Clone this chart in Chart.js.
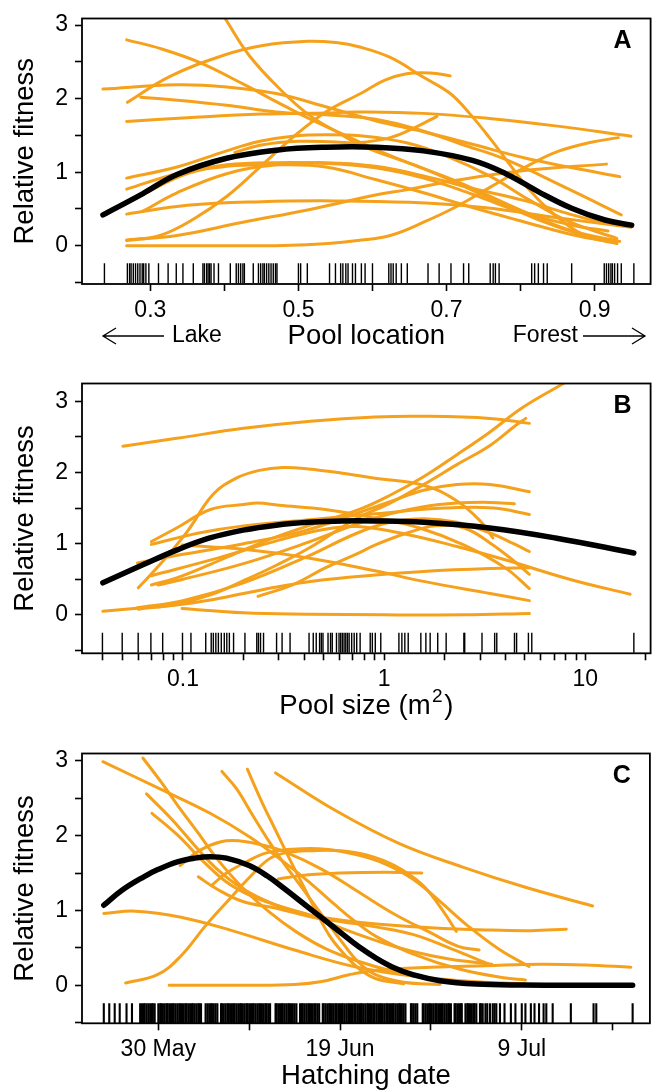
<!DOCTYPE html>
<html>
<head>
<meta charset="utf-8">
<script src="https://cdn.jsdelivr.net/npm/chart.js@4.4.0/dist/chart.umd.min.js"></script>
<style>
  html, body { margin: 0; padding: 0; background: #fff; }
  .panel { position: absolute; left: 0; width: 662px; }
</style>
</head>
<body>
<div class="panel" style="top:0;height:360px"><canvas id="chartA"></canvas></div>
<div class="panel" style="top:365px;height:360px"><canvas id="chartB"></canvas></div>
<div class="panel" style="top:735px;height:356px"><canvas id="chartC"></canvas></div>
<script>
const ORANGE = "#f6a11c";
const FONT = "'Liberation Sans', Arial, Helvetica, sans-serif";

// axis ticks and labels
const FIT_TICKS = [-0.5, 0, 0.5, 1, 1.5, 2, 2.5, 3];
const FIT_LABELS = [0, 1, 2, 3];
const LOC_TICKS = [0.3, 0.4, 0.5, 0.6, 0.7, 0.8, 0.9];
const LOC_LABELS = [0.3, 0.5, 0.7, 0.9];
const SIZE_TICKS = [0.04, 0.05, 0.06, 0.07, 0.08, 0.09, 0.1, 0.2, 0.3, 0.4, 0.5, 0.6, 0.7, 0.8, 0.9,
  1, 2, 3, 4, 5, 6, 7, 8, 9, 10, 20];
const SIZE_LABELS = [0.1, 1, 10];
const DATE_TICKS = [150, 160, 170, 180, 190, 200]; // day of year
const DATE_LABELS = { 150: "30 May", 170: "19 Jun", 190: "9 Jul" };

// A: pool location
const locMean = [[0.236,0.42],[0.29,0.71],[0.336,0.97],[0.403,1.19],[0.47,1.3],[0.537,1.34],[0.604,1.34],
  [0.669,1.29],[0.735,1.16],[0.78,0.98],[0.825,0.73],[0.869,0.51],[0.914,0.35],[0.95,0.28]];
const locCurves = [
  [[0.401,3.09],[0.434,2.58],[0.479,2.09],[0.514,1.78],[0.55,1.56],[0.59,1.34],[0.669,1.05],[0.758,0.65],[0.825,0.35],[0.892,0.12],[0.93,0.04]],
  [[0.269,1.95],[0.326,2.3],[0.399,2.59],[0.45,2.72],[0.513,2.78],[0.553,2.76],[0.58,2.71],[0.624,2.56],[0.669,2.29],[0.705,2.07],[0.731,1.8],[0.758,1.47],[0.785,1.11],[0.812,0.76],[0.838,0.49],[0.865,0.27],[0.892,0.12],[0.93,0.03]],
  [[0.268,2.8],[0.314,2.68],[0.367,2.49],[0.425,2.2],[0.47,1.96],[0.514,1.73],[0.559,1.52],[0.604,1.31],[0.65,1.12],[0.713,0.88],[0.803,0.47],[0.87,0.2],[0.934,0.06]],
  [[0.236,2.13],[0.336,2.19],[0.403,2.16],[0.47,2.07],[0.537,1.89],[0.604,1.7],[0.669,1.55],[0.735,1.38],[0.803,1.2],[0.87,1.06],[0.934,0.94]],
  [[0.287,2.02],[0.336,1.98],[0.403,1.91],[0.47,1.82],[0.537,1.78],[0.604,1.72],[0.665,1.57],[0.72,1.38],[0.778,1.18],[0.863,0.78],[0.936,0.42]],
  [[0.268,1.69],[0.35,1.74],[0.45,1.79],[0.55,1.81],[0.58,1.82],[0.669,1.8],[0.758,1.73],[0.847,1.63],[0.949,1.49]],
  [[0.268,0],[0.4,0],[0.48,0.005],[0.54,0.03],[0.58,0.07],[0.624,0.14],[0.669,0.32],[0.713,0.53],[0.758,0.79],[0.803,1.05],[0.847,1.27],[0.892,1.4],[0.932,1.47]],
  [[0.268,0.08],[0.336,0.14],[0.425,0.32],[0.514,0.49],[0.604,0.69],[0.646,0.76],[0.713,0.89],[0.803,1.02],[0.916,1.11]],
  [[0.268,0.07],[0.313,0.14],[0.358,0.36],[0.403,0.67],[0.448,1.07],[0.492,1.47],[0.537,1.82],[0.586,2.08],[0.616,2.25],[0.646,2.34],[0.678,2.35],[0.705,2.31]],
  [[0.268,0.92],[0.336,1.07],[0.403,1.29],[0.448,1.42],[0.492,1.49],[0.537,1.51],[0.59,1.49],[0.646,1.4],[0.7,1.22],[0.758,0.95],[0.812,0.62],[0.865,0.33],[0.93,0.1]],
  [[0.268,0.77],[0.336,0.98],[0.403,1.1],[0.47,1.13],[0.537,1.12],[0.604,1.06],[0.669,0.92],[0.735,0.7],[0.803,0.45],[0.87,0.28],[0.918,0.2]],
  [[0.238,0.45],[0.29,0.7],[0.35,0.98],[0.403,1.08],[0.47,1.1],[0.537,1.07],[0.604,0.9],[0.669,0.72],[0.735,0.52],[0.803,0.33],[0.87,0.15],[0.93,0.04]],
  [[0.29,0.47],[0.336,0.72],[0.403,0.98],[0.47,1.1],[0.537,1.13],[0.604,1.08],[0.669,0.95],[0.735,0.78],[0.803,0.62],[0.87,0.42],[0.918,0.3]],
  [[0.414,1.27],[0.45,1.37],[0.5,1.42],[0.55,1.41],[0.58,1.4],[0.624,1.47],[0.66,1.62],[0.687,1.76]],
  [[0.268,0.43],[0.35,0.55],[0.45,0.6],[0.55,0.61],[0.65,0.59],[0.75,0.52],[0.85,0.38],[0.949,0.25]]
];
const locRug = [0.238,0.269,0.272,0.274,0.277,0.28,0.283,0.286,0.289,0.291,0.294,0.298,0.311,0.324,0.335,0.344,
  0.358,0.371,0.373,0.376,0.378,0.38,0.382,0.386,0.392,0.408,0.416,0.419,0.422,0.425,0.427,0.439,0.446,0.449,
  0.452,0.454,0.457,0.46,0.463,0.466,0.469,0.471,0.5,0.503,0.512,0.542,0.55,0.557,0.56,0.564,0.567,0.573,0.577,
  0.585,0.59,0.6,0.622,0.625,0.628,0.632,0.639,0.647,0.675,0.69,0.706,0.723,0.73,0.759,0.763,0.766,0.771,
  0.815,0.819,0.824,0.831,0.836,0.869,0.913,0.916,0.919,0.922,0.924,0.927,0.931,0.936,0.953];

// B: pool size (m2)
const sizeMean = [[0.04,0.45],[0.064,0.71],[0.093,0.91],[0.136,1.08],[0.199,1.19],[0.29,1.26],[0.42,1.3],
  [0.62,1.32],[0.9,1.32],[1.57,1.3],[3.34,1.22],[7.1,1.08],[17.4,0.87]];
const sizeCurves = [
  [[0.0503,2.37],[0.093,2.48],[0.2,2.62],[0.43,2.72],[0.9,2.78],[1.57,2.79],[3.36,2.76],[5.27,2.69]],
  [[0.099,0.09],[0.2,0.03],[0.43,0.01],[1,0],[2.5,0],[5.27,0.02]],
  [[0.04,0.05],[0.063,0.1],[0.093,0.14],[0.137,0.21],[0.2,0.3],[0.293,0.39],[0.43,0.47],[0.9,0.56],[1.57,0.61],[3.36,0.65],[5.27,0.66]],
  [[0.0697,0.42],[0.093,0.52],[0.137,0.71],[0.2,0.91],[0.293,1.1],[0.43,1.26],[0.736,1.47],[1.07,1.68],[1.57,1.94],[2.3,2.25],[3.36,2.57],[4.92,2.92],[7.9,3.26]],
  [[0.06,0.08],[0.093,0.15],[0.137,0.28],[0.2,0.48],[0.293,0.7],[0.43,0.95],[0.736,1.36],[1.07,1.57],[1.57,1.83],[2.3,2.11],[3.36,2.38],[4.5,2.66],[5.06,2.76]],
  [[0.06,0.38],[0.077,0.71],[0.105,1.17],[0.141,1.69],[0.184,1.92],[0.24,2.03],[0.313,2.07],[0.42,2.05],[0.62,1.99],[0.9,1.92],[1.57,1.82],[2.3,1.6],[3.0,1.32],[3.47,1.08]],
  [[0.0697,1.03],[0.093,1.22],[0.137,1.48],[0.2,1.55],[0.236,1.57],[0.3,1.54],[0.51,1.48],[0.9,1.36],[1.5,1.22],[2.5,0.98],[4,0.66],[5.27,0.37]],
  [[0.0697,0.99],[0.12,1.15],[0.2,1.25],[0.4,1.33],[0.9,1.42],[2,1.5],[3.5,1.5],[5.27,1.41]],
  [[0.099,0.98],[0.2,0.92],[0.42,0.8],[0.9,0.62],[1.57,0.47],[3.36,0.3],[5.27,0.2]],
  [[0.0594,0.73],[0.1,0.85],[0.2,1.0],[0.4,1.18],[0.736,1.43],[1.07,1.59],[1.57,1.75],[2.3,1.83],[3.36,1.83],[5.27,1.73]],
  [[0.075,0.42],[0.1,0.5],[0.2,0.72],[0.4,1.0],[0.736,1.28],[1.07,1.42],[1.57,1.52],[2.3,1.57],[3.36,1.58],[4.44,1.56]],
  [[0.0594,0.1],[0.1,0.2],[0.2,0.45],[0.4,0.8],[0.736,1.15],[1.07,1.3],[1.57,1.35],[2.3,1.3],[3.36,1.15],[4.4,1.0],[5.27,0.89]],
  [[0.236,0.26],[0.35,0.42],[0.51,0.66],[0.736,0.86],[0.9,0.98],[1.3,1.15],[1.8,1.25],[2.5,1.22],[3.4,1.0],[4.4,0.76],[5.27,0.57]],
  [[0.0697,0.55],[0.15,0.8],[0.3,1.05],[0.5,1.2],[0.736,1.24],[1.3,1.13],[2.3,0.96],[4.03,0.77],[8.6,0.49],[16.7,0.29]]
];
const sizeRug = [0.0398,0.0499,0.0599,0.0693,0.0793,0.0995,0.1096,0.1298,0.1382,0.1416,0.1457,0.15,0.1551,
  0.1605,0.1652,0.1701,0.1785,0.2033,0.2328,0.2373,0.243,0.2515,0.292,0.311,0.3407,0.4234,0.4443,0.4597,
  0.4777,0.4871,0.4966,0.5261,0.5416,0.5522,0.5796,0.5967,0.6083,0.6201,0.6322,0.6445,0.6571,0.6699,0.6896,
  0.7097,0.7306,0.7596,0.8527,0.8736,0.9036,0.9621,1.184,1.225,1.267,1.317,1.522,1.612,1.693,1.846,2.033,
  2.49,2.514,3.064,3.542,3.629,4.444,4.553,5.212,5.417,17.42];

// C: hatching date (day of year)
const dateMean = [[144,1.07],[146,1.27],[148.4,1.45],[150,1.55],[152.1,1.65],[154,1.7],[155.7,1.72],[157.5,1.7],
  [160,1.6],[162,1.46],[164,1.28],[166,1.09],[168,0.9],[170,0.71],[172,0.52],[174,0.36],[176,0.23],[178,0.14],
  [181,0.06],[185,0.015],[190,0.002],[196,0],[202.2,0]];
const dateCurves = [
  [[143.9,2.99],[150.3,2.62],[155.7,2.3],[160.1,1.98],[163.7,1.66],[166.6,1.38],[169.5,1.07],[172,0.82],[174,0.65],[178,0.42],[183,0.22],[188,0.1],[190.4,0.07]],
  [[148.3,3.04],[150.3,2.72],[152.1,2.41],[154.3,2.05],[156.4,1.7],[159.3,1.3],[162.2,0.98],[165.1,0.72],[168.4,0.49],[172,0.32],[176,0.18],[180,0.08],[184,0.03]],
  [[148.7,2.56],[151.4,2.23],[154,1.87],[156.4,1.56],[159.3,1.29],[163,1.07],[166.6,0.94],[170.2,0.87],[174,0.82],[180,0.77],[186,0.74],[191,0.73],[194.9,0.75]],
  [[149.3,2.3],[152.1,2.01],[155,1.65],[157.5,1.38],[160.1,1.2],[163,1.07],[166.6,0.94],[170.2,0.76],[173.9,0.6],[178,0.45],[182,0.35],[186.7,0.28]],
  [[157,2.86],[158.6,2.63],[160.4,2.27],[162.2,1.92],[163.7,1.65],[165.9,1.29],[168,0.94],[170.2,0.58],[172,0.31],[173.9,0.14],[177,0.04],[181,0.01]],
  [[159.8,2.89],[161.4,2.45],[163,2.05],[164.4,1.7],[165.9,1.34],[167.4,0.98],[168.8,0.67],[170.2,0.45],[172,0.23],[173.9,0.09],[177,0.02]],
  [[162.9,2.84],[169.6,2.33],[176.6,1.89],[183.5,1.58],[190.4,1.31],[197.8,1.06]],
  [[144,0.96],[147.5,0.99],[152.5,0.91],[158.1,0.73],[165,0.47],[171.9,0.24],[178.9,0.11],[185.8,0.04],[190.4,0.02]],
  [[146.4,0.03],[149.9,0.14],[152.4,0.38],[155.3,0.81],[157.9,1.16],[160.1,1.45],[162.2,1.69],[164,1.77],[167,1.8],[170,1.8],[173,1.74],[176,1.6],[179,1.35],[181,1.05],[182.8,0.72]],
  [[151.2,0],[160,0],[165,0.01],[168,0.05],[171,0.14],[174,0.2],[180,0.24],[186,0.26],[192,0.28],[197,0.27],[202,0.24]],
  [[152.4,1.6],[154.5,1.8],[156.9,1.92],[159,1.93],[161.3,1.88],[164,1.78],[168,1.55],[172,1.25],[176,0.95],[180,0.7],[183,0.52],[185.3,0.47]],
  [[154.4,1.45],[156.4,1.29],[159.3,1.12],[163,1.03],[166.6,0.92],[170.2,0.85],[173.9,0.78],[178,0.68],[182,0.5],[186.6,0.27]],
  [[155.9,1.34],[157.5,1.5],[159.7,1.65],[161.9,1.77],[164.8,1.82],[168.4,1.82],[172,1.74],[175,1.62],[178,1.42],[181,1.12],[184,0.8],[187.5,0.48],[190.8,0.25]],
  [[163.2,1.42],[166,1.47],[170,1.5],[175,1.51],[179,1.5]]
];
const dateRug = [144.0,144.6,145.2,145.75,146.5,147.1,
  148.0,148.2,148.4,148.5,148.7,148.9,149.1,149.3,149.4,149.6,150.0,150.2,150.3,150.5,150.7,150.9,151.0,
  151.2,151.4,151.6,151.7,151.9,152.1,152.3,152.4,152.6,152.8,153.0,153.1,153.3,153.5,153.7,153.8,154.0,
  154.2,154.4,154.5,154.7,155.2,155.4,155.6,155.8,155.9,156.1,156.3,156.5,156.9,157.0,157.2,157.4,157.6,
  157.7,157.9,158.1,158.3,158.4,158.6,158.8,159.0,159.1,159.3,159.5,159.7,159.8,160.0,160.2,160.4,160.5,
  160.7,160.9,161.1,161.2,161.4,161.6,161.8,161.9,162.1,162.3,162.9,163.0,163.2,163.4,163.6,163.7,163.9,
  164.1,164.3,164.4,164.6,164.8,165.0,165.2,165.6,165.8,165.9,166.1,166.3,166.5,166.6,166.8,167.0,167.2,
  167.3,167.5,167.7,168.1,168.2,168.4,168.6,168.8,168.9,169.1,169.3,169.5,169.6,169.8,170.0,170.2,170.3,
  170.5,170.7,170.9,171.0,171.2,171.4,171.6,171.7,171.9,172.1,172.3,172.4,172.6,172.8,173.0,173.1,173.3,
  173.5,173.7,173.8,174.0,174.2,174.4,174.5,174.7,174.9,175.1,175.2,175.4,175.6,175.8,175.9,176.1,176.3,
  176.5,176.6,176.8,177.0,177.2,177.8,177.9,178.1,178.3,178.5,179.1,179.2,179.4,179.6,179.8,179.9,180.1,
  180.3,180.5,180.6,180.8,181.0,181.2,181.3,181.5,181.7,181.9,182.0,182.2,182.6,182.7,182.9,183.1,183.3,
  183.4,183.8,184.0,184.1,184.3,184.5,184.7,184.8,185.0,185.4,185.5,185.7,186.0,186.2,186.5,186.8,187.0,
  187.2,187.6,188.1,188.8,189.3,190.0,190.4,191.0,191.4,191.9,192.4,192.7,193.4,195.4,197.9,198.2,202.2];

Chart.defaults.font.family = FONT;
Chart.defaults.color = "#000";

// box around the plot area and the panel letter
const frame = {
  id: "frame",
  afterDraw(chart, args, opts) {
    const { ctx, chartArea: a } = chart;
    ctx.save();
    ctx.lineWidth = 1.8;
    ctx.strokeStyle = "#000";
    ctx.strokeRect(a.left, a.top, a.right - a.left, a.bottom - a.top);
    ctx.fillStyle = "#000";
    ctx.font = "bold 25px " + FONT;
    ctx.textAlign = "center";
    ctx.textBaseline = "middle";
    ctx.fillText(opts.letter, a.right - 28, a.top + 23);
    ctx.restore();
  }
};
Chart.register(frame);

function arrow(ctx, from, to, y) {
  const dir = Math.sign(to - from);
  ctx.beginPath();
  ctx.moveTo(from, y);
  ctx.lineTo(to, y);
  ctx.moveTo(to - dir * 13, y - 8);
  ctx.lineTo(to, y);
  ctx.lineTo(to - dir * 13, y + 8);
  ctx.stroke();
}

const sides = {
  id: "sides",
  afterDraw(chart) {
    const ctx = chart.ctx;
    const y = 336;
    ctx.save();
    ctx.fillStyle = "#000";
    ctx.strokeStyle = "#000";
    ctx.lineWidth = 1.3;
    ctx.font = "23px " + FONT;
    ctx.textBaseline = "middle";
    ctx.textAlign = "left";
    ctx.fillText("Lake", 172, y);
    ctx.textAlign = "right";
    ctx.fillText("Forest", 578, y);
    arrow(ctx, 164, 103, y);
    arrow(ctx, 583, 645, y);
    ctx.restore();
  }
};

// x title for B, with a proper raised "2"
const sizeTitle = {
  id: "sizeTitle",
  afterDraw(chart) {
    const ctx = chart.ctx;
    const a = chart.chartArea;
    const y = 341;
    ctx.save();
    ctx.fillStyle = "#000";
    ctx.textBaseline = "middle";
    ctx.textAlign = "left";
    ctx.font = "27.5px " + FONT;
    const main = "Pool size (m";
    const wMain = ctx.measureText(main).width;
    const wClose = ctx.measureText(")").width;
    ctx.font = "19px " + FONT;
    const wSup = ctx.measureText("2").width + 3;
    const x0 = (a.left + a.right) / 2 - (wMain + wSup + wClose) / 2;
    ctx.font = "27.5px " + FONT;
    ctx.fillText(main, x0, y);
    ctx.fillText(")", x0 + wMain + wSup, y);
    ctx.font = "19px " + FONT;
    ctx.fillText("2", x0 + wMain + 1.5, y - 9);
    ctx.restore();
  }
};

function line(points, color, width, order) {
  return {
    type: "line",
    data: points.map(([x, y]) => ({ x, y })),
    borderColor: color,
    borderWidth: width,
    borderCapStyle: "round",
    borderJoinStyle: "round",
    pointRadius: 0,
    fill: false,
    tension: 0.4,
    order: order
  };
}

function panel(id, p) {
  const datasets = [line(p.mean, "#000", 5.5, 0)];
  p.curves.forEach(c => datasets.push(line(c, ORANGE, 3, 1)));
  datasets.push({
    type: "scatter",
    data: p.rug.map(x => ({ x, y: p.rugY })),
    pointStyle: "line",
    pointRotation: 90,
    pointRadius: 10,
    pointBorderColor: "#000",
    pointBorderWidth: p.rugW,
    order: 2
  });
  const grid = { drawOnChartArea: false, tickLength: 7, tickWidth: 1.6, tickColor: "#000" };
  return new Chart(document.getElementById(id), {
    type: "line",
    data: { datasets },
    plugins: p.extra || [],
    options: {
      responsive: true,
      maintainAspectRatio: false,
      animation: false,
      events: [],
      layout: { padding: { top: p.top, right: 6, left: 0, bottom: 0 } },
      plugins: { legend: { display: false }, tooltip: { enabled: false }, frame: { letter: p.letter } },
      scales: {
        x: {
          type: p.xType,
          min: p.xMin,
          max: p.xMax,
          afterBuildTicks: s => { s.ticks = p.xTicks.map(v => ({ value: v })); },
          afterFit: s => { s.height = p.xHeight; },
          grid: grid,
          border: { display: false },
          ticks: { autoSkip: false, maxRotation: 0, padding: 8, font: { size: 23, lineHeight: 1 }, callback: p.xLabel },
          title: { display: !!p.xTitle, text: p.xTitle || "", font: { size: 27.5, lineHeight: 1 }, padding: { top: 0, bottom: p.titlePad } }
        },
        y: {
          type: "linear",
          min: p.yMin,
          max: p.yMax,
          afterBuildTicks: s => { s.ticks = FIT_TICKS.map(v => ({ value: v })); },
          afterFit: s => { s.width = 82; },
          grid: grid,
          border: { display: false },
          ticks: { padding: 7, font: { size: 23, lineHeight: 1 }, callback: v => FIT_LABELS.includes(v) ? String(v) : "" },
          title: { display: true, text: "Relative fitness", font: { size: 27.5, lineHeight: 1 }, padding: { top: 12, bottom: 0 } }
        }
      }
    }
  });
}

panel("chartA", {
  letter: "A", mean: locMean, curves: locCurves, rug: locRug, rugY: -0.373, rugW: 1.4,
  top: 12.7, xHeight: 76, titlePad: 10,
  xType: "linear", xMin: 0.2077, xMax: 0.9756, xTicks: LOC_TICKS,
  xLabel: v => LOC_LABELS.includes(v) ? String(v) : "",
  xTitle: "Pool location", yMin: -0.52, yMax: 3.09, extra: [sides]
});

panel("chartB", {
  letter: "B", mean: sizeMean, curves: sizeCurves, rug: sizeRug, rugY: -0.392, rugW: 1.4,
  top: 17.7, xHeight: 71.7,
  xType: "logarithmic", xMin: 0.0315, xMax: 21.1, xTicks: SIZE_TICKS,
  xLabel: v => SIZE_LABELS.includes(v) ? String(v) : "",
  xTitle: null, yMin: -0.54, yMax: 3.25, extra: [sizeTitle]
});

panel("chartC", {
  letter: "C", mean: dateMean, curves: dateCurves, rug: dateRug, rugY: -0.374, rugW: 2.1,
  top: 17.7, xHeight: 67.7, titlePad: 1.3,
  xType: "linear", xMin: 141.6, xMax: 204.1, xTicks: DATE_TICKS,
  xLabel: v => DATE_LABELS[v] || "",
  xTitle: "Hatching date", yMin: -0.51, yMax: 3.1
});
</script>
</body>
</html>
